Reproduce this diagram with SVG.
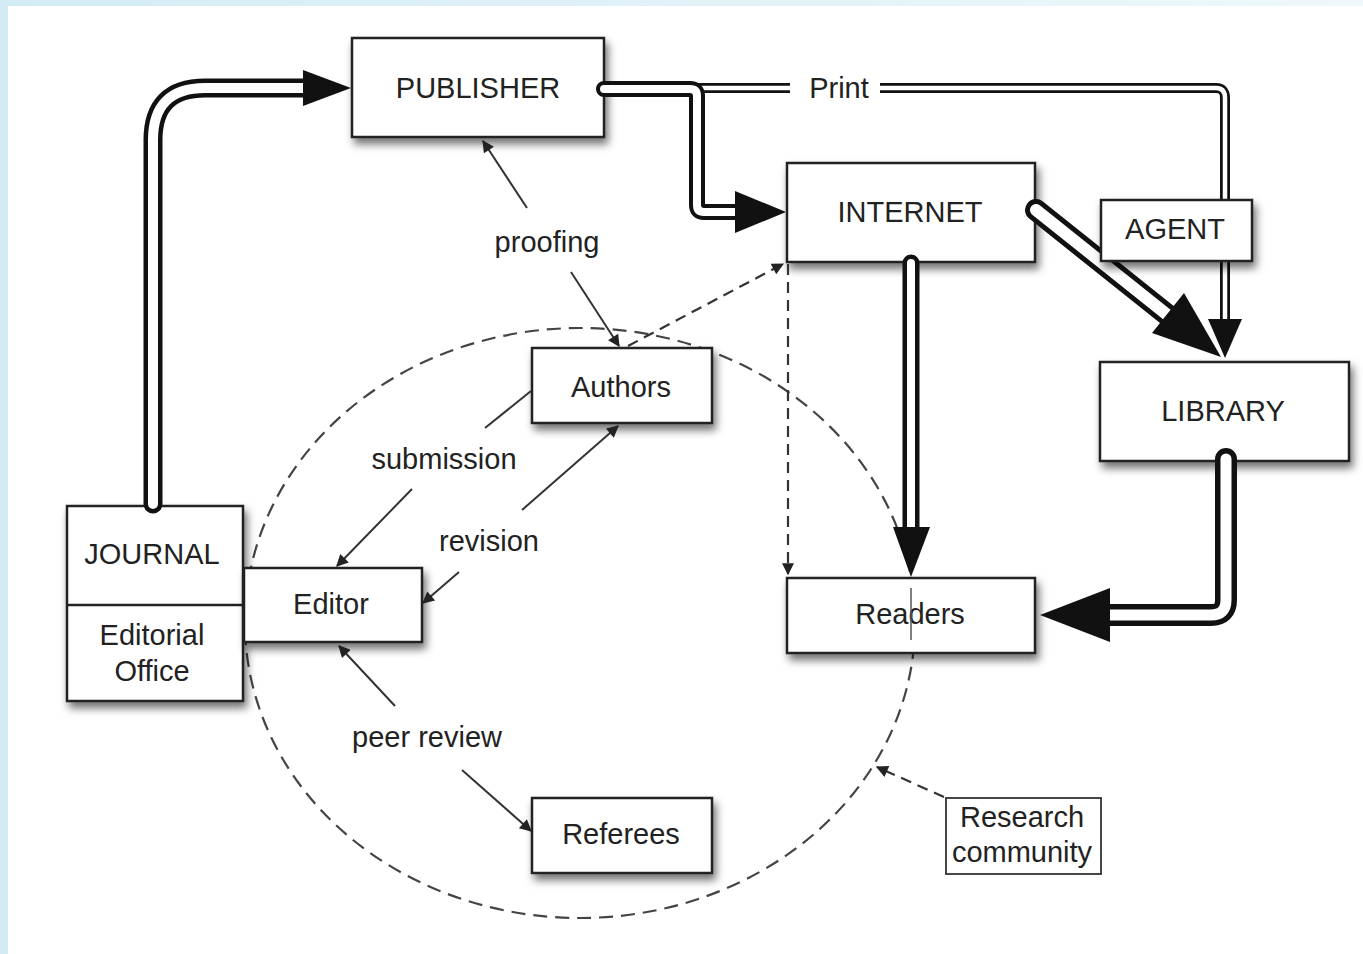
<svg xmlns="http://www.w3.org/2000/svg" width="1363" height="954" viewBox="0 0 1363 954">
<defs>
<style>
.box{fill:#fff;stroke:#222;stroke-width:2.5}
.t{font-family:"Liberation Sans",Arial,sans-serif;font-size:29px;fill:#222;text-anchor:middle}
.thin{fill:none;stroke:#333;stroke-width:2}
.dash{fill:none;stroke:#333;stroke-width:2.2;stroke-dasharray:11 7}
.pipeO{fill:none;stroke:#111;stroke-linecap:round;stroke-linejoin:round}
.pipeI{fill:none;stroke:#fff;stroke-linecap:round;stroke-linejoin:round}
.head{fill:#111}
</style>
<linearGradient id="topband" x1="0" x2="1" y1="0" y2="0">
<stop offset="0" stop-color="#d3ecf4"/>
<stop offset="1" stop-color="#eef8fb"/>
</linearGradient>
<filter id="sh" x="-10%" y="-10%" width="130%" height="140%">
<feDropShadow dx="3" dy="6" stdDeviation="4" flood-color="#000" flood-opacity="0.55"/>
</filter>
<marker id="ah" viewBox="0 0 10 10" refX="9" refY="5" markerWidth="15" markerHeight="12" markerUnits="userSpaceOnUse" orient="auto">
<path d="M0,0 L10,5 L0,10 z" fill="#222"/>
</marker>
</defs>

<rect x="0" y="0" width="1363" height="954" fill="#d3ecf4"/>
<rect x="0" y="0" width="1363" height="6" fill="url(#topband)"/>
<rect x="8" y="6" width="1355" height="948" fill="#fff"/>

<!-- research community boundary -->
<ellipse id="community-circle" cx="580" cy="623" rx="335" ry="295" class="dash" style="stroke:#444;stroke-dasharray:14 8"/>

<g id="publisher">
<rect class="box" filter="url(#sh)" x="352" y="38" width="252" height="99"/>
<text class="t" x="478" y="98">PUBLISHER</text>
</g>

<g id="internet">
<rect class="box" filter="url(#sh)" x="787" y="163" width="248" height="99"/>
<text class="t" x="910" y="222">INTERNET</text>
</g>

<g id="library">
<rect class="box" filter="url(#sh)" x="1100" y="362" width="249" height="99"/>
<text class="t" x="1223" y="421">LIBRARY</text>
</g>

<g id="authors">
<rect class="box" filter="url(#sh)" x="532" y="348" width="180" height="75"/>
<text class="t" x="621" y="397">Authors</text>
</g>

<g id="journal">
<rect class="box" filter="url(#sh)" x="67" y="506" width="176" height="195"/>
<line x1="67" y1="605" x2="243" y2="605" stroke="#222" stroke-width="2.5"/>
<text class="t" x="152" y="564">JOURNAL</text>
<text class="t" x="152" y="645">Editorial</text>
<text class="t" x="152" y="681">Office</text>
</g>

<g id="editor">
<rect class="box" filter="url(#sh)" x="244" y="568" width="178" height="74"/>
<text class="t" x="331" y="614">Editor</text>
</g>

<g id="readers">
<rect class="box" filter="url(#sh)" x="787" y="578" width="248" height="75"/>
<text class="t" x="910" y="624">Readers</text>
<line x1="911" y1="588" x2="911" y2="640" stroke="#555" stroke-width="1.5"/>
</g>

<g id="referees">
<rect class="box" filter="url(#sh)" x="532" y="798" width="180" height="75"/>
<text class="t" x="621" y="844">Referees</text>
</g>

<g id="research-community">
<rect x="946" y="798" width="155" height="76" fill="#fff" stroke="#333" stroke-width="1.8"/>
<text class="t" x="1022" y="827">Research</text>
<text class="t" x="1022" y="862">community</text>
</g>

<g id="connectors">
<!-- JOURNAL -> PUBLISHER -->
<path class="pipeO" stroke-width="19" d="M153,504 V140 Q153,88 205,88 H315"/>
<path class="pipeI" stroke-width="10" d="M153,504 V140 Q153,88 205,88 H315"/>
<polygon class="head" points="303,70 351,88 303,106"/>

<!-- Print: PUBLISHER -> LIBRARY -->
<path class="pipeO" stroke-width="10" d="M700,88 H1216 Q1225,88 1225,98 V325"/>
<path class="pipeI" stroke-width="4.5" d="M700,88 H1216 Q1225,88 1225,98 V325"/>
<rect x="790" y="75" width="90" height="28" fill="#fff"/>
<text class="t" x="839" y="98">Print</text>
<polygon class="head" points="1208,319 1242,319 1225,358"/>

<!-- PUBLISHER -> INTERNET -->
<path class="pipeO" stroke-width="16" d="M604,89 H690 Q697,89 697,96 V205 Q697,212 704,212 H745"/>
<path class="pipeI" stroke-width="8" d="M604,89 H690 Q697,89 697,96 V205 Q697,212 704,212 H745"/>
<polygon class="head" points="735,191 786,212 735,233"/>

<!-- INTERNET -> LIBRARY -->
<path class="pipeO" stroke-width="22" d="M1036,210 L1170,317"/>
<path class="pipeI" stroke-width="12" d="M1036,210 L1170,317"/>
<polygon class="head" points="1221,357 1152,333 1184,293"/>

<!-- INTERNET -> Readers -->
<path class="pipeO" stroke-width="17" d="M911,263 V535"/>
<path class="pipeI" stroke-width="8" d="M911,263 V535"/>
<polygon class="head" points="893,527 930,527 911,577"/>

<!-- LIBRARY -> Readers -->
<path class="pipeO" stroke-width="22" d="M1226,459 V600 Q1226,615 1211,615 H1100"/>
<path class="pipeI" stroke-width="11" d="M1226,459 V600 Q1226,615 1211,615 H1100"/>
<polygon class="head" points="1040,615 1110,588 1110,642"/>

<!-- dashed: Authors -> INTERNET, INTERNET -> Readers -->
<line class="dash" x1="628" y1="346" x2="783" y2="264" marker-end="url(#ah)"/>
<line class="dash" x1="788" y1="264" x2="788" y2="574" marker-end="url(#ah)"/>

<!-- proofing -->
<line class="thin" x1="527" y1="208" x2="483" y2="141" marker-end="url(#ah)"/>
<line class="thin" x1="571" y1="272" x2="619" y2="346" marker-end="url(#ah)"/>
<text class="t" x="547" y="252">proofing</text>

<!-- submission -->
<line class="thin" x1="531" y1="391" x2="485" y2="428"/>
<line class="thin" x1="412" y1="489" x2="337" y2="566" marker-end="url(#ah)"/>
<text class="t" x="444" y="469">submission</text>

<!-- revision -->
<line class="thin" x1="459" y1="572" x2="423" y2="603" marker-end="url(#ah)"/>
<line class="thin" x1="522" y1="510" x2="618" y2="426" marker-end="url(#ah)"/>
<text class="t" x="489" y="551">revision</text>

<!-- peer review -->
<line class="thin" x1="395" y1="706" x2="339" y2="646" marker-end="url(#ah)"/>
<line class="thin" x1="462" y1="770" x2="531" y2="831" marker-end="url(#ah)"/>
<text class="t" x="427" y="747">peer review</text>

<!-- Research community -> circle -->
<line class="dash" x1="944" y1="797" x2="877" y2="767" marker-end="url(#ah)"/>
</g>

<g id="agent">
<rect class="box" filter="url(#sh)" x="1101" y="200" width="151" height="61"/>
<text class="t" x="1175" y="239">AGENT</text>
</g>
</svg>
